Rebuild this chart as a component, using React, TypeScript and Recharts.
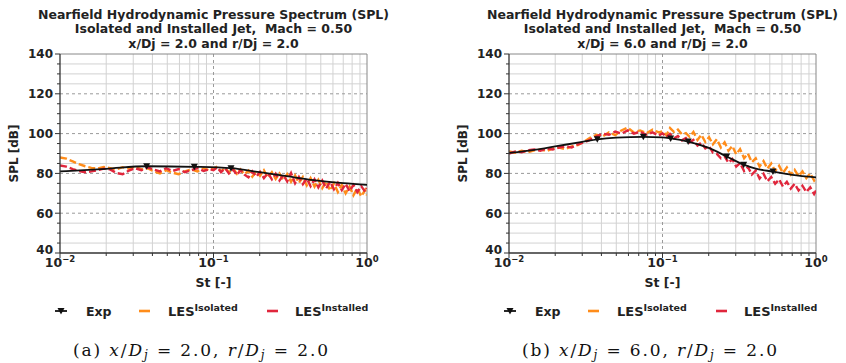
import React from "react";
import {
  ComposedChart, Line, XAxis, YAxis, CartesianGrid, ReferenceLine,
} from "recharts";

// Strouhal grid shared by the LES spectra
const ST_LES = [
  0.01, 0.011, 0.0121, 0.0133, 0.0146, 0.016, 0.0176, 0.0193, 0.0212, 0.0233,
  0.0256, 0.0281, 0.0309, 0.0339, 0.0372, 0.0408, 0.0448, 0.0492, 0.054, 0.0593,
  0.0651, 0.0715, 0.0785, 0.0862, 0.0946, 0.1, 0.106, 0.112, 0.119, 0.126,
  0.134, 0.142, 0.15, 0.159, 0.169, 0.179, 0.19, 0.201, 0.213, 0.226,
  0.24, 0.254, 0.269, 0.285, 0.302, 0.32, 0.34, 0.36, 0.382, 0.405,
  0.429, 0.455, 0.482, 0.511, 0.542, 0.575, 0.609, 0.646, 0.685, 0.726,
  0.77, 0.816, 0.865, 0.917, 0.972, 1.0,
];

// panel (a) x/Dj = 2, r/Dj = 2
const ISO_A = [
  88.0, 87.4, 86.0, 84.6, 83.6, 82.8, 82.4, 83.2, 82.6, 82.0,
  83.1, 82.4, 83.4, 82.0, 82.6, 81.0, 80.0, 81.6, 80.4, 79.6,
  81.0, 82.0, 81.0, 82.6, 81.4, 82.4, 83.4, 81.0, 82.8, 80.4,
  82.4, 79.8, 82.0, 79.6, 81.4, 78.4, 81.0, 78.8, 81.6, 77.8,
  80.6, 77.2, 80.0, 76.6, 79.6, 75.8, 79.0, 75.2, 78.2, 74.0,
  77.6, 73.4, 76.8, 72.6, 76.0, 71.4, 75.0, 70.6, 74.2, 70.0,
  73.4, 69.0, 72.6, 68.4, 71.6, 69.0,
];
const INS_A = [
  84.0, 83.4, 82.2, 81.2, 80.6, 81.0, 81.6, 82.4, 82.0, 80.2,
  79.6, 81.4, 82.6, 81.6, 83.0, 82.0, 81.0, 82.6, 81.2, 82.2,
  80.6, 81.6, 82.6, 81.2, 82.2, 81.6, 83.0, 80.6, 82.6, 80.0,
  82.0, 79.2, 81.6, 79.4, 78.0, 81.0, 78.4, 80.8, 77.6, 80.2,
  77.0, 79.8, 76.4, 79.2, 76.0, 80.2, 75.0, 78.2, 74.6, 77.4,
  73.6, 77.0, 73.0, 76.4, 72.4, 75.8, 72.0, 75.2, 71.6, 74.8,
  71.0, 74.2, 70.6, 73.6, 70.8, 72.6,
];
const EXP_ST_A = [0.01, 0.02, 0.0367, 0.075, 0.13, 0.2, 0.3, 0.45, 0.7, 1.0];
const EXP_SPL_A = [81.0, 82.3, 83.6, 83.3, 82.6, 80.6, 78.6, 76.6, 75.1, 74.2];
const MARK_ST_A = [0.0367, 0.075, 0.13];
const MARK_SPL_A = [83.6, 83.3, 82.6];

// panel (b) x/Dj = 6, r/Dj = 2
const ISO_B = [
  91.0, 90.4, 91.4, 90.6, 91.6, 92.0, 91.2, 92.6, 93.0, 92.2,
  93.6, 94.2, 96.0, 98.0, 99.4, 98.6, 100.6, 99.2, 101.6, 103.0,
  100.6, 101.6, 100.2, 102.0, 100.6, 101.2, 99.2, 102.8, 100.8, 102.0,
  99.6, 100.2, 98.4, 100.8, 96.8, 99.4, 95.8, 98.2, 94.6, 97.2,
  93.0, 95.6, 91.4, 93.8, 89.6, 92.2, 87.6, 90.0, 85.6, 87.6,
  83.4, 86.2, 82.4, 85.0, 81.2, 83.8, 80.2, 83.0, 79.4, 81.8,
  78.6, 81.0, 77.6, 80.0, 76.4, 77.8,
];
const INS_B = [
  90.0, 91.0, 90.6, 91.6, 92.0, 91.4, 92.6, 92.0, 93.0, 93.6,
  93.0, 94.6, 95.6, 97.0, 98.6, 100.0, 99.4, 101.0, 100.0, 101.6,
  100.0, 101.0, 99.4, 100.6, 99.0, 100.2, 98.2, 99.8, 97.6, 98.8,
  96.6, 97.8, 95.6, 96.8, 94.0, 95.4, 92.6, 93.8, 90.4, 89.8,
  87.6, 88.6, 85.4, 87.2, 83.4, 85.2, 81.2, 83.2, 79.4, 81.4,
  77.4, 79.8, 76.0, 78.2, 74.8, 77.0, 73.4, 75.8, 72.4, 74.8,
  71.4, 73.8, 70.6, 73.0, 69.6, 71.4,
];
const EXP_ST_B = [0.01, 0.015, 0.02, 0.03, 0.0376, 0.05, 0.075, 0.1, 0.113, 0.147, 0.2, 0.262, 0.338, 0.4, 0.524, 0.7, 1.0];
const EXP_SPL_B = [90.3, 92.0, 93.6, 95.8, 97.1, 98.0, 98.4, 98.1, 97.6, 96.0, 92.8, 88.5, 84.4, 82.5, 80.9, 79.3, 78.0];
const MARK_ST_B = [0.0376, 0.075, 0.113, 0.147, 0.262, 0.338, 0.524];
const MARK_SPL_B = [97.1, 98.4, 97.6, 96.0, 88.5, 84.4, 80.9];

// axes
const X_TICKS = [
  0.01, 0.02, 0.03, 0.04, 0.05, 0.06, 0.07, 0.08, 0.09,
  0.1, 0.2, 0.3, 0.4, 0.5, 0.6, 0.7, 0.8, 0.9, 1,
];
const X_DECADES = [0.01, 0.1, 1];
const X_EXPONENTS = ["\u22122", "\u22121", "0"];
const Y_TICKS = [40, 45, 50, 55, 60, 65, 70, 75, 80, 85, 90, 95, 100, 105, 110, 115, 120, 125, 130, 135, 140];
const Y_MAJOR = [60, 80, 100, 120];

const NB = "\u00a0";
const TITLE = ["Nearfield Hydrodynamic Pressure Spectrum (SPL)", `Isolated and Installed Jet,${NB}${NB}Mach = 0.50`];

const ORANGE = "#ff8c1a";
const RED = "#e0263c";
const FONT = "'DejaVu Sans', sans-serif";

const rows = (xs: number[], ys: number[]) => xs.map((st, i) => ({ st, v: ys[i] }));

function XTick(props: any) {
  const { x, y, payload } = props;
  const k = X_DECADES.findIndex((d) => Math.abs(d - payload.value) < 1e-9);
  return (
    <g>
      <line x1={x} x2={x} y1={y} y2={y + (k >= 0 ? 5 : 3)} stroke="#333" strokeWidth={1} />
      {k >= 0 && (
        <text x={x} y={y + 14} textAnchor="middle" fontFamily={FONT} fontWeight="bold" fill="#222">
          <tspan fontSize={12.5}>10</tspan>
          <tspan fontSize={8.5} dy={-5}>{X_EXPONENTS[k]}</tspan>
        </text>
      )}
    </g>
  );
}

function YTick(props: any) {
  const { x, y, payload } = props;
  const major = payload.value % 20 === 0;
  return (
    <g>
      <line x1={x - (major ? 5 : 3)} x2={x} y1={y} y2={y} stroke="#333" strokeWidth={1} />
      {major && (
        <text x={x - 7} y={payload.value === 40 ? y - 3 : y} dy="0.36em" textAnchor="end"
          fontFamily={FONT} fontWeight="bold" fontSize={12} fill="#222">
          {payload.value}
        </text>
      )}
    </g>
  );
}

function Tri(props: any) {
  const { cx, cy, index } = props;
  if (cx == null || cy == null) return <g key={`t${index}`} />;
  return <path key={`t${index}`} d={`M${cx - 3.5},${cy - 3} L${cx + 3.5},${cy - 3} L${cx},${cy + 3.5} Z`} fill="#111" />;
}

function LegendDash({ x, color }: { x: number; color: string }) {
  return <line x1={x} x2={x + 11} y1={311} y2={311} stroke={color} strokeWidth={2.6} />;
}

function Panel(p: {
  left: number; line3: string; letter: string; xd: string;
  iso: number[]; ins: number[]; expSt: number[]; expSpl: number[]; markSt: number[]; markSpl: number[];
}) {
  const iso = rows(ST_LES, p.iso);
  const ins = rows(ST_LES, p.ins);
  const exp = rows(p.expSt, p.expSpl);
  const marks = rows(p.markSt, p.markSpl);
  return (
    <div style={{ position: "absolute", left: p.left, top: 0, width: 423, height: 363 }}>
      <ComposedChart width={423} height={275} margin={{ top: 54, right: 56, bottom: 0, left: 0 }}>
        <CartesianGrid
          horizontalValues={Y_TICKS.filter((v) => v % 20 !== 0)}
          verticalValues={X_TICKS.filter((v) => !X_DECADES.includes(v))}
          stroke="#d2d2d2"
        />
        <CartesianGrid horizontalValues={Y_MAJOR} verticalValues={[0.1]} stroke="#9a9a9a" strokeDasharray="3 3" />
        <XAxis
          dataKey="st" type="number" scale="log" domain={[0.01, 1]} allowDataOverflow
          ticks={X_TICKS} interval={0} tick={<XTick />} tickLine={false} tickSize={0} tickMargin={0}
          axisLine={{ stroke: "#333", strokeWidth: 1.3 }} height={22}
        />
        <YAxis
          type="number" domain={[40, 140]} ticks={Y_TICKS} interval={0} tick={<YTick />}
          tickLine={false} tickSize={0} tickMargin={0} axisLine={{ stroke: "#333", strokeWidth: 1.3 }} width={60}
        />
        <ReferenceLine y={140} stroke="#888" />
        <ReferenceLine x={1} stroke="#888" />
        <Line data={iso} dataKey="v" stroke={ORANGE} strokeWidth={2.4} strokeDasharray="7 3" dot={false} isAnimationActive={false} />
        <Line data={ins} dataKey="v" stroke={RED} strokeWidth={2.4} strokeDasharray="7 3" dot={false} isAnimationActive={false} />
        <Line data={exp} dataKey="v" type="monotone" stroke="#111" strokeWidth={1.8} dot={false} isAnimationActive={false} />
        <Line data={marks} dataKey="v" stroke="none" dot={<Tri />} isAnimationActive={false} />
      </ComposedChart>

      <svg width={423} height={363} style={{ position: "absolute", left: 0, top: 0 }} fontFamily={FONT}>
        <g fontWeight="bold" fontSize={12.5} fill="#222" textAnchor="middle">
          <text x={213.5} y={18.5}>{TITLE[0]}</text>
          <text x={213.5} y={33}>{TITLE[1]}</text>
          <text x={213.5} y={47.5}>{p.line3}</text>
          <text x={213.5} y={287}>St [-]</text>
          <text x={0} y={0} transform="translate(17.5,153.5) rotate(-90)" fontSize={12}>SPL [dB]</text>
        </g>

        {/* legend */}
        <line x1={55} x2={67} y1={311} y2={311} stroke="#111" strokeWidth={1.8} />
        <path d="M57.5,308 L64.5,308 L61,314.5 Z" fill="#111" />
        <text x={86} y={315.5} fontWeight="bold" fontSize={12.5} fill="#222">Exp</text>
        <LegendDash x={139} color={ORANGE} />
        <text x={168} y={315.5} fontWeight="bold" fill="#222">
          <tspan fontSize={13}>LES</tspan>
          <tspan fontSize={9.5} dy={-5}>Isolated</tspan>
        </text>
        <LegendDash x={267} color={RED} />
        <text x={295} y={315.5} fontWeight="bold" fill="#222">
          <tspan fontSize={13}>LES</tspan>
          <tspan fontSize={9.5} dy={-5}>Installed</tspan>
        </text>

        {/* caption */}
        <text x={73} y={356} fontFamily="'DejaVu Serif', serif" fontSize={17} fill="#111" textLength={255} lengthAdjust="spacing">
          <tspan>{`(${p.letter})${NB}`}</tspan>
          <tspan fontStyle="italic">x</tspan>
          <tspan>/</tspan>
          <tspan fontStyle="italic">D</tspan>
          <tspan fontStyle="italic" fontSize={12} dy={3}>j</tspan>
          <tspan dy={-3}>{`${NB}=${NB}${p.xd},${NB}`}</tspan>
          <tspan fontStyle="italic">r</tspan>
          <tspan>/</tspan>
          <tspan fontStyle="italic">D</tspan>
          <tspan fontStyle="italic" fontSize={12} dy={3}>j</tspan>
          <tspan dy={-3}>{`${NB}=${NB}2.0`}</tspan>
        </text>
      </svg>
    </div>
  );
}

export default function App() {
  return (
    <div style={{ position: "fixed", left: 0, top: 0, width: 846, height: 363, background: "#fff", overflow: "hidden" }}>
      <Panel left={0} line3="x/Dj = 2.0 and r/Dj = 2.0" letter="a" xd="2.0"
        iso={ISO_A} ins={INS_A} expSt={EXP_ST_A} expSpl={EXP_SPL_A} markSt={MARK_ST_A} markSpl={MARK_SPL_A} />
      <Panel left={449} line3="x/Dj = 6.0 and r/Dj = 2.0" letter="b" xd="6.0"
        iso={ISO_B} ins={INS_B} expSt={EXP_ST_B} expSpl={EXP_SPL_B} markSt={MARK_ST_B} markSpl={MARK_SPL_B} />
    </div>
  );
}
